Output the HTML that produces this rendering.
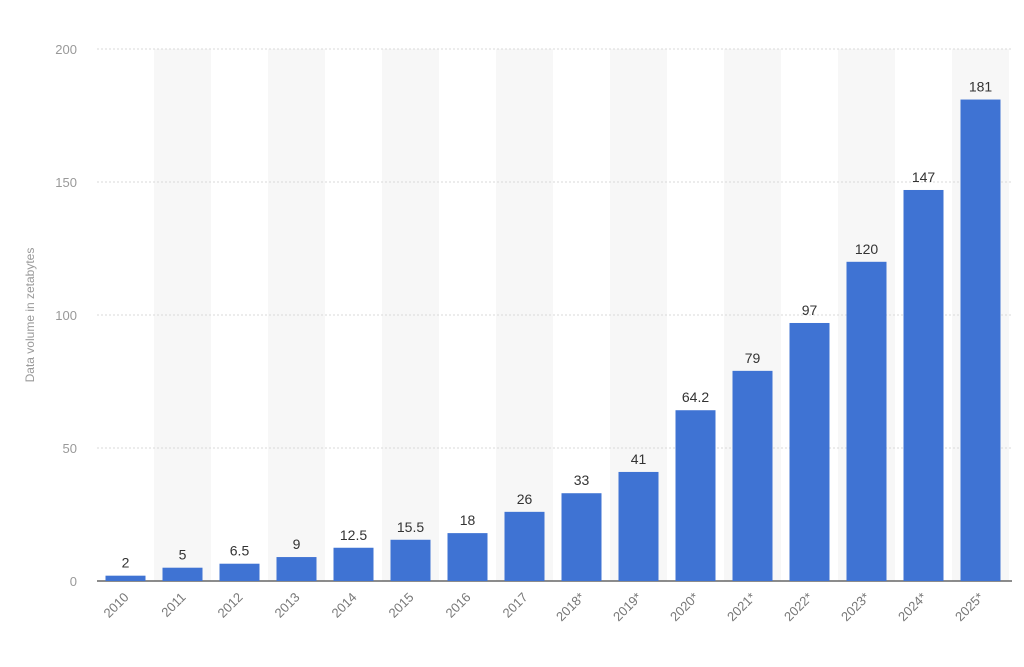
<!DOCTYPE html>
<html><head><meta charset="utf-8"><style>
body{margin:0;background:#fff;width:1024px;height:662px;overflow:hidden;font-family:"Liberation Sans",sans-serif}
</style></head><body>
<svg id="chart" width="1024" height="662" xmlns="http://www.w3.org/2000/svg">
<g id="bands"></g><g id="grid"></g><g id="bars"></g><g id="labels"></g><g id="xticks"></g><g id="yticks"></g>
<text x="34" y="315" transform="rotate(-90 34 315)" text-anchor="middle" font-size="12" fill="#999">Data volume in zetabytes</text>
</svg>
<script>
const categories=["2010","2011","2012","2013","2014","2015","2016","2017","2018*","2019*","2020*","2021*","2022*","2023*","2024*","2025*"];
const values=[2,5,6.5,9,12.5,15.5,18,26,33,41,64.2,79,97,120,147,181];
const valueLabels=["2","5","6.5","9","12.5","15.5","18","26","33","41","64.2","79","97","120","147","181"];
const yTicks=[0,50,100,150,200];
const NS="http://www.w3.org/2000/svg";
const x0=97,band=57,bw=40,yBase=581,yTop=49,yMax=200;
const y=v=>yBase-(v/yMax)*(yBase-yTop);
const xb=i=>x0+i*band;
function mk(g,t,a){const e=document.createElementNS(NS,t);for(const k in a)e.setAttribute(k,a[k]);document.getElementById(g).appendChild(e);return e;}
categories.forEach((c,i)=>{
 if(i%2===1){const r=mk("bands","rect",{x:xb(i),y:yTop,width:band,height:yBase-yTop,fill:"#f7f7f7"});
 
 }
});
yTicks.forEach(t=>{
 if(t>0){const l=mk("grid","line",{x1:x0,x2:1012,y1:y(t),y2:y(t),stroke:"#d8d8d8","stroke-dasharray":"2,2"});
 
 }
 const tx=mk("yticks","text",{x:77,y:y(t)+5,"text-anchor":"end","font-size":"13",fill:"#999"});
 
 
 tx.textContent=t;
});
const ax=mk("grid","line",{x1:x0,x2:1012,y1:yBase,y2:yBase,stroke:"#666","stroke-width":"1.5"});


values.forEach((v,i)=>{
 const cx=xb(i)+band/2;
 const r=mk("bars","rect",{x:cx-bw/2,y:y(v),width:bw,height:yBase-y(v),fill:"#3f73d3"});
 
 
 const t=mk("labels","text",{x:cx,y:y(v)-8,"text-anchor":"middle","font-size":"14",fill:"#333"});
 
 
 t.textContent=valueLabels[i];
 const lx=cx+4,ly=598;
 const xt=mk("xticks","text",{x:lx,y:ly,"text-anchor":"end","font-size":"13",fill:"#777",transform:`rotate(-45 ${lx} ${ly})`});
 
 
 xt.textContent=categories[i];
});
</script>
</body></html>
